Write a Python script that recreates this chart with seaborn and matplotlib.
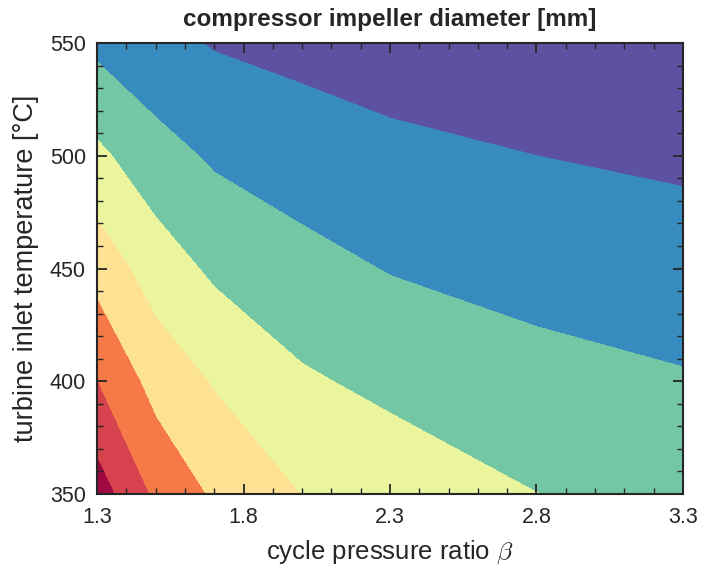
import numpy as np
import pandas as pd
import seaborn as sns
import matplotlib.pyplot as plt
from matplotlib.ticker import MultipleLocator

# grid (impeller diameter, mm)
beta = [1.3, 1.5, 1.7, 2.0, 2.3, 2.8, 3.3]
tit = [350, 400, 450, 500, 550]
d_350 = [144.7, 128.0, 118.5, 109.8, 106.1, 100.1, 97.0]
d_400 = [130.0, 116.3, 109.2, 101.3, 97.6, 93.2, 90.8]
d_450 = [116.2, 105.2, 98.2, 93.1, 89.5, 86.6, 84.5]
d_500 = [102.1, 93.8, 88.6, 85.1, 82.4, 80.0, 78.3]
d_550 = [87.6, 82.7, 79.3, 77.1, 75.2, 73.4, 72.1]
levels = [60, 80, 90, 100, 110, 120, 130, 140, 160]
band_colors = ["#5d51a2", "#378bbf", "#74c7a5", "#eaf59e",
               "#fde294", "#f57a48", "#d7424f", "#a00843"]

df = pd.DataFrame([d_350, d_400, d_450, d_500, d_550], index=tit, columns=beta)

sns.set_style("ticks")
plt.rcParams["font.family"] = ["Liberation Sans", "DejaVu Sans"]
plt.rcParams["mathtext.fontset"] = "cm"

fig = plt.figure(figsize=(7.01, 5.69), dpi=100)
ax = fig.add_axes([0.1384, 0.1318, 0.8359, 0.7926])

B, T = np.meshgrid(df.columns.values, df.index.values)
ax.contourf(B, T, df.values, levels=levels, colors=sns.color_palette(band_colors))
ax.set_axisbelow(False)  # keep the inward ticks on top of the filled bands

ax.set_xlim(1.3, 3.3)
ax.set_ylim(350, 550)
ax.set_xticks([1.3, 1.8, 2.3, 2.8, 3.3])
ax.set_yticks([350, 400, 450, 500, 550])
ax.xaxis.set_minor_locator(MultipleLocator(0.1))
ax.yaxis.set_minor_locator(MultipleLocator(10))
ax.tick_params(which="both", direction="in", top=True, right=True,
               color="#262626", labelsize=15.5, labelcolor="#262626")
ax.tick_params(which="major", length=7, width=1.3)
ax.tick_params(which="minor", length=4, width=1.0)
ax.tick_params(axis="x", which="major", pad=9)
ax.tick_params(axis="y", which="major", pad=8)
for s in ax.spines.values():
    s.set_linewidth(1.5)
    s.set_color("#262626")
    s.set_zorder(5)

ax.set_xlabel(r"cycle pressure ratio $\beta$", fontsize=18.5, color="#262626",
              labelpad=8)
ax.set_ylabel("turbine inlet temperature [°C]", fontsize=19.5, color="#262626",
              labelpad=8)
ax.set_title("compressor impeller diameter [mm]", fontsize=17.5,
             fontweight="bold", pad=12)

fig.savefig("out.png", dpi=100)
